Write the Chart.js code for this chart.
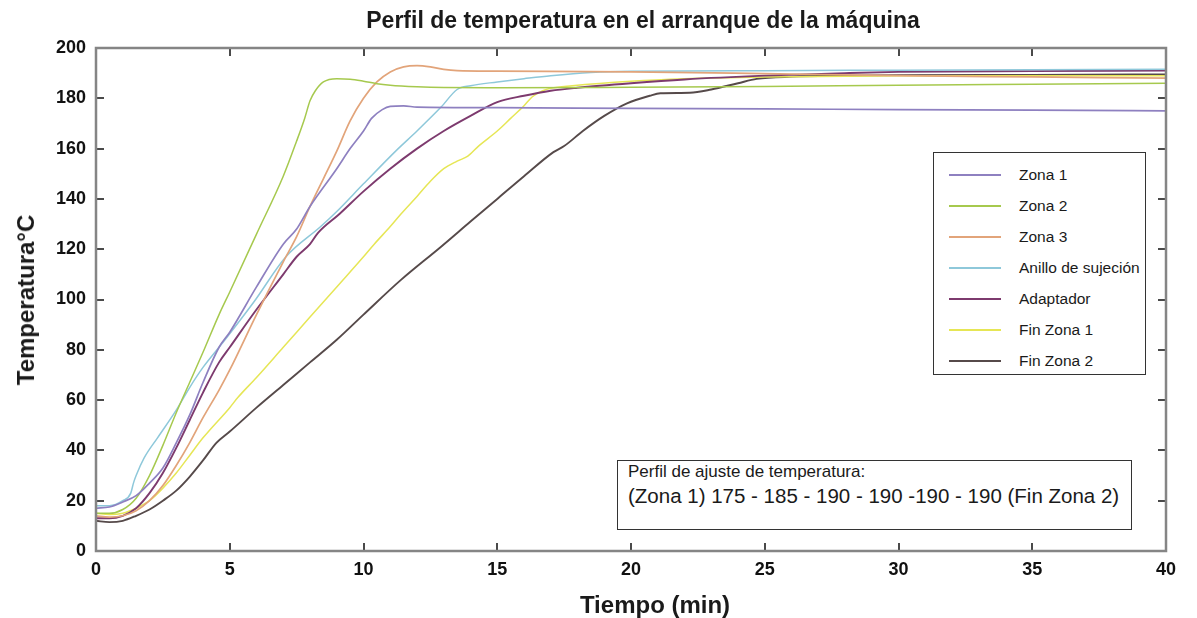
<!DOCTYPE html>
<html><head><meta charset="utf-8">
<script src="https://cdn.jsdelivr.net/npm/chart.js@4.4.1/dist/chart.umd.min.js"></script>
<style>
html,body{margin:0;padding:0;background:#fff;}
#wrap{position:relative;width:1197px;height:618px;font-family:"Liberation Sans",Arial,sans-serif;color:#1a1a1a;overflow:hidden;}
#c{position:absolute;left:0;top:0;}
.title{position:absolute;left:643px;top:20px;transform:translate(-50%,-50%);font-size:23px;font-weight:bold;white-space:nowrap;}
.xtitle{position:absolute;left:655px;top:605px;transform:translate(-50%,-50%);font-size:24px;font-weight:bold;white-space:nowrap;}
.ytitle{position:absolute;left:26px;top:300px;transform:translate(-50%,-50%) rotate(-90deg);font-size:24px;font-weight:bold;white-space:nowrap;}
#legend{position:absolute;left:933px;top:152px;width:211px;height:221px;border:1.5px solid #333;background:#fff;}
.row{position:absolute;left:0;height:20px;width:100%;}
.row .ln{position:absolute;left:15px;top:9px;width:52px;height:2px;}
.row .tx{position:absolute;left:85px;top:0;font-size:15.5px;line-height:20px;white-space:nowrap;}
#note{position:absolute;left:617px;top:460px;width:513px;height:68px;border:1.5px solid #333;background:#fff;}
#note .l1{position:absolute;left:10px;top:1px;font-size:17px;line-height:20px;white-space:nowrap;}
#note .l2{position:absolute;left:10px;top:23px;font-size:20.5px;line-height:24px;white-space:nowrap;}
</style></head>
<body>
<div id="wrap">
<canvas id="c" width="1197" height="618"></canvas>
<div class="title">Perfil de temperatura en el arranque de la máquina</div>
<div class="xtitle">Tiempo (min)</div>
<div class="ytitle">Temperatura°C</div>
<div id="legend"></div>
<div id="note"><div class="l1">Perfil de ajuste de temperatura:</div><div class="l2">(Zona 1) 175 - 185 - 190 - 190 -190 - 190 (Fin Zona 2)</div></div>
</div>
<script>
// ---- data (time in min, temperature in °C) ----
const seriesNames = ["Zona 1","Zona 2","Zona 3","Anillo de sujeción","Adaptador","Fin Zona 1","Fin Zona 2"];

const zona1Time = [0,0.5,1,1.5,2,2.5,3,3.5,4,4.6,5,6,7,7.5,8,9,9.5,10,10.3,10.7,11,11.5,12,15,20,25,30,35,40];
const zona1Temp = [17,17.5,19.5,22,27,33,43,54,67,81,87,105,122,128,137,152,160,167,172,175.5,176.8,177,176.5,176.3,176,175.8,175.5,175.3,175];

const zona2Time = [0,0.5,1,1.5,2,2.5,3,3.5,4,4.6,5,6,7,7.5,7.8,8,8.2,8.5,9,9.5,10,10.5,11,12,13,15,20,25,30,35,40];
const zona2Temp = [15,15,16.5,21,30,42,55,67,79,94,103,126,149,163,172,179,183,186.5,187.8,187.6,186.8,185.8,185.2,184.6,184.3,184.2,184.4,184.7,185.2,185.6,186];

const zona3Time = [0,0.5,1,1.5,2,2.5,3,3.5,4,4.6,5,6,7,7.5,8,8.5,9,9.5,10,10.5,11,11.5,12,12.5,13,13.5,15,20,25,30,35,40];
const zona3Temp = [14,13.5,14,16,20,26,34,43,53,64,72,94,115,125,137,148,159,171,180,186.5,190.5,192.5,193,192.5,191.5,191,190.8,190.5,189.8,189,188.5,188];

const anilloTime = [0,0.5,1,1.3,1.4,1.5,1.8,2.3,3,3.5,4,4.75,5.9,7.1,8.4,9,10,11.25,12,12.9,13.5,14,15,16,17,18.5,20,25,30,35,40];
const anilloTemp = [18,18,20,23,27,30,37,45,56,65,73,83,99,117,129,135,146,159.5,167,176.5,183.5,185,186.5,187.8,189,190.3,190.8,191,191.2,191.4,191.6];

const adaptTime = [0,0.5,1,1.5,2,2.5,3,3.5,4,4.6,5,6,7,7.5,8,8.3,9.1,10,11,12,13,14,15,16,17,18,20,22,25,28,30,35,40];
const adaptTemp = [13,13,14,17,23,31,41,52,63,75,81,96,110,117,122,126.5,134,143,152,160,167,173,178.5,181,183,184.2,186,187.5,189,190,190.5,190.8,191];

const fin1Time = [0,0.5,1,1.5,2,2.5,3,3.5,4,5,5.3,6,7,8,9,10,10.4,11,11.4,12,12.5,13,13.5,13.9,14.3,15,15.5,16,16.3,16.7,17,17.8,20,22,25,30,35,40];
const fin1Temp = [15,14.5,15,17,20,25,31,38,45,57,61,69,81,93,105,117,122,129,134,141,147,152,155,157,161,167,172,177,180.5,183,184,185,186.8,187.8,188.5,189,189,189];

const fin2Time = [0,0.5,1,1.5,2,2.5,3,3.5,4,4.5,5,6,7,8,9,10,11.4,12.9,14,15,16,17.1,17.5,18.2,19,19.85,20.7,21.1,22.2,23,24,24.7,26,28,30,35,40];
const fin2Temp = [12,11.5,12,14,16.5,20,24,29.5,36,43,47.5,57,66,75,84,94,107.8,121,131,140,149,158.6,161,167,173,178,181,182,182.2,183.5,186,187.7,188.6,189,189.2,189.3,189.5];

const xTicks = [0,5,10,15,20,25,30,35,40];
const yTicks = [0,20,40,60,80,100,120,140,160,180,200];

// ---- styles ----
const colors = ["#8e80c0","#a6c94e","#e2a47a","#8ec8da","#7d3a6e","#e6e655","#564a4a"];
const widths = [1.7,1.5,1.7,1.5,1.9,1.5,1.9];
const times = [zona1Time,zona2Time,zona3Time,anilloTime,adaptTime,fin1Time,fin2Time];
const temps = [zona1Temp,zona2Temp,zona3Temp,anilloTemp,adaptTemp,fin1Temp,fin2Temp];

const datasets = seriesNames.map((name,i)=>({
  label:name,
  data: times[i].map((t,j)=>({x:t,y:temps[i][j]})),
  borderColor: colors[i],
  backgroundColor: colors[i],
  borderWidth: widths[i],
  pointRadius:0,
  cubicInterpolationMode:'monotone',
  fill:false
}));

const boxTicks = {
  id:'boxTicks',
  afterDatasetsDraw(chart){
    const {ctx, chartArea:a, scales:{x,y}} = chart;
    ctx.save();
    ctx.strokeStyle = '#4a4a4a';
    ctx.lineWidth = 2;
    const L = 8;
    ctx.beginPath();
    xTicks.forEach(v=>{
      if(v===xTicks[0]||v===xTicks[xTicks.length-1]) return;
      const px = Math.round(x.getPixelForValue(v));
      ctx.moveTo(px,a.bottom); ctx.lineTo(px,a.bottom-L);
      ctx.moveTo(px,a.top); ctx.lineTo(px,a.top+L);
    });
    yTicks.forEach(v=>{
      if(v===yTicks[0]||v===yTicks[yTicks.length-1]) return;
      const py = Math.round(y.getPixelForValue(v));
      ctx.moveTo(a.left,py); ctx.lineTo(a.left+L,py);
      ctx.moveTo(a.right,py); ctx.lineTo(a.right-L,py);
    });
    ctx.stroke();
    ctx.strokeStyle = '#858585';
    ctx.lineWidth = 2.5;
    ctx.strokeRect(a.left,a.top,a.right-a.left,a.bottom-a.top);
    ctx.restore();
  }
};

const tickFont = {family:'"Liberation Sans", Arial, sans-serif', size:18, weight:'bold'};

const chart = new Chart(document.getElementById('c'),{
  type:'line',
  data:{datasets},
  options:{
    responsive:false,
    animation:false,
    layout:{padding:{top:48,right:31,left:0,bottom:0}},
    plugins:{legend:{display:false},title:{display:false},tooltip:{enabled:false}},
    scales:{
      x:{type:'linear',min:0,max:40,
        afterFit(s){s.height=67;},
        afterBuildTicks(s){s.ticks = xTicks.map(v=>({value:v}));},
        grid:{display:false},
        border:{display:false},
        ticks:{font:tickFont,color:'#111',padding:0,maxRotation:0,autoSkip:false}
      },
      y:{type:'linear',min:0,max:200,
        afterFit(s){s.width=96;},
        afterBuildTicks(s){s.ticks = yTicks.map(v=>({value:v}));},
        grid:{display:false},
        border:{display:false},
        ticks:{font:tickFont,color:'#111',padding:2,autoSkip:false}
      }
    }
  },
  plugins:[boxTicks]
});

// legend built from chart datasets
const leg = document.getElementById('legend');
chart.data.datasets.forEach((ds,i)=>{
  const r = document.createElement('div');
  r.className='row';
  r.style.top = (12 + i*31) + 'px';
  r.innerHTML = '<div class="ln" style="background:'+ds.borderColor+'"></div><div class="tx"></div>';
  r.querySelector('.tx').textContent = ds.label;
  leg.appendChild(r);
});
</script>
</body></html>
